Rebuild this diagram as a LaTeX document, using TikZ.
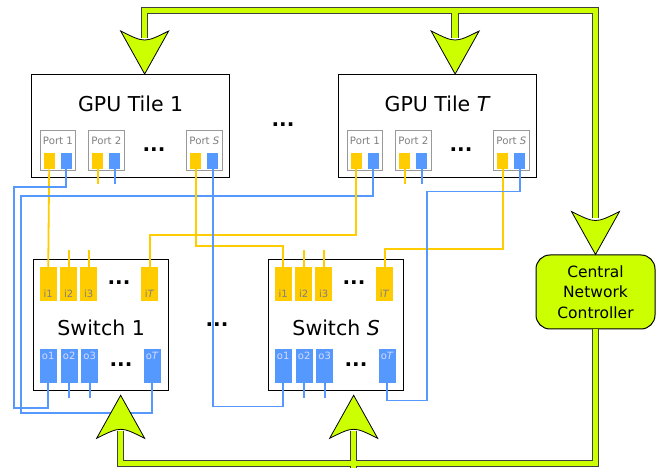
\documentclass[tikz,border=0pt]{standalone}
\usepackage{fontspec}
\setmainfont{DejaVu Sans}
\usetikzlibrary{positioning}
\definecolor{busgreen}{HTML}{CCFF00}
\definecolor{inyellow}{HTML}{FFCC00}
\definecolor{outblue}{HTML}{5599FF}
\tikzset{
  tilebox/.style={draw=black, line width=1.3pt, fill=white, minimum width=198pt, minimum height=103pt, inner sep=0pt},
  swbox/.style={draw=black, line width=1.3pt, fill=white, minimum width=135pt, minimum height=131pt, inner sep=0pt},
  portbox/.style={draw=black!40, line width=1.4pt, minimum width=35.5pt, minimum height=40pt, inner sep=0pt},
  portlbl/.style={text=black!50, font=\fontsize{10.2}{11}\selectfont, inner sep=0pt},
  ysq/.style={fill=inyellow, minimum width=11pt, minimum height=16pt, inner sep=0pt},
  bsq/.style={fill=outblue, minimum width=11pt, minimum height=16pt, inner sep=0pt},
  insq/.style={fill=inyellow, minimum width=17pt, minimum height=34pt, inner sep=0pt},
  outsq/.style={fill=outblue, minimum width=17pt, minimum height=34pt, inner sep=0pt},
  inlbl/.style={anchor=south, yshift=4pt, inner sep=0pt, text=black!50, font=\fontsize{10}{11}\selectfont},
  outlbl/.style={anchor=north, yshift=-3pt, inner sep=0pt, text=white!85!blue, font=\fontsize{10}{11}\selectfont},
  title/.style={inner sep=0pt, font=\fontsize{20.5}{24}\selectfont},
  dots/.style={inner sep=0pt, font=\bfseries\fontsize{20}{20}\selectfont},
  yline/.style={draw=inyellow, line width=1.8pt},
  bline/.style={draw=outblue, line width=1.8pt},
  busout/.style={draw=black!75, line width=7.6pt},
  busin/.style={draw=busgreen, line width=5.6pt},
  head/.style={fill=busgreen, draw=black, line width=0.8pt, line join=miter},
  bighead/.pic={\filldraw[head] (0,0) -- (-24,-43) .. controls (0,-31) .. (24,-43) -- cycle;},
  ctrlbox/.style={draw=black, line width=1pt, fill=busgreen, rounded corners=14pt, minimum width=119pt, minimum height=74pt, align=center, font=\fontsize{15.5}{20.5}\selectfont}
}
\begin{document}
\begin{tikzpicture}[x=1pt, y=-1pt]
\useasboundingbox (0,0) rectangle (657,468);

% GPU tiles with their ports
\foreach \t/\x/\name in {1/31/1, T/338/\textit{T}}{
  \node[tilebox, anchor=north west] (tile\t) at (\x,74) {};
  \node[title] at ([shift={(0,30)}]tile\t.north) {GPU Tile \name};
  \foreach \p/\dx/\pn in {1/8.5/1, 2/57/2, S/155/\textit{S}}{
    \node[portbox, anchor=north west] (t\t p\p) at ([shift={(\dx,56)}]tile\t.north west) {};
    \node[portlbl] at ([shift={(0,11)}]t\t p\p.north) {Port \pn};
    \node[ysq, anchor=north west] (t\t p\p y) at ([shift={(4,23)}]t\t p\p.north west) {};
    \node[bsq, anchor=north west] (t\t p\p b) at ([shift={(21,23)}]t\t p\p.north west) {};
  }
  \node[dots] at ([shift={(123,76)}]tile\t.north west) {...};
}
\node[dots] at (283,125) {...};

% switches
\foreach \s/\x/\name in {1/33/1, S/268/\textit{S}}{
  \node[swbox, anchor=north west] (sw\s) at (\x,259) {};
  \node[title] at ([shift={(0,2.5)}]sw\s.center) {Switch \name};
  \foreach \i/\dx/\lbl in {1/6.5/1, 2/27/2, 3/47/3, T/108/\textit{T}}
    \node[insq, anchor=north west, label={[inlbl]south:i\lbl}] (sw\s i\i) at ([shift={(\dx,8)}]sw\s.north west) {};
  \foreach \o/\dx/\lbl in {1/6.5/1, 2/27.5/2, 3/48/3, T/110.5/\textit{T}}
    \node[outsq, anchor=north west, label={[outlbl]north:o\lbl}] (sw\s o\o) at ([shift={(\dx,90)}]sw\s.north west) {};
  \node[dots] at ([shift={(86,24)}]sw\s.north west) {...};
  \node[dots] at ([shift={(88,106)}]sw\s.north west) {...};
}
\node[dots] at (217,325) {...};

\node[ctrlbox] (ctrl) at (595.5,292) {Central\\Network\\Controller};

% links between tiles and switches
\draw[yline] (t1p1y.south) -- (sw1i1.north);
\draw[bline] (t1p1b.south) |- (14,187) |- (sw1o1.south |- 0,408) -- (sw1o1.south);
\draw[bline] (tTp1b.south) |- (21,196) |- (sw1oT.south |- 0,413) -- (sw1oT.south);
\draw[yline] (tTp1y.south) |- ([yshift=32pt]sw1iT.north) -- (sw1iT.north);
\draw[yline] (t1pSy.south) |- ([yshift=21pt]swSi1.north) -- (swSi1.north);
\draw[bline] (t1pSb.south) |- ([yshift=-23pt]swSo1.south) -- (swSo1.south);
\draw[yline] (tTpSy.south) |- ([yshift=18pt]swSiT.north) -- (swSiT.north);
\draw[bline] (tTpSb.south) |- (427,191.5) |- ([yshift=-17pt]swSoT.south) -- (swSoT.south);

% loose ends
\foreach \n in {t1p2y, tTp2y} \draw[yline] (\n.south) -- ++(0,15);
\foreach \n in {t1p2b, tTp2b} \draw[bline] (\n.south) -- ++(0,15);
\foreach \n in {sw1i2, sw1i3, swSi2, swSi3} \draw[yline] (\n.north) -- ++(0,-17);
\foreach \n in {sw1o2, sw1o3, swSo2, swSo3} \draw[bline] (\n.south) -- ++(0,15);

% control bus
\foreach \s in {busout, busin}{
  \draw[\s, shorten <=36pt, shorten >=36pt] ([shift={(14,0)}]tile1.north) |- (0,10.5 -| ctrl.north) -- (ctrl.north);
  \draw[\s, shorten >=36pt] ([shift={(17.5,0)}]tileT.north |- 0,10.5) -- ([shift={(17.5,0)}]tileT.north);
  \draw[\s, shorten <=36pt] ([shift={(19.5,4)}]sw1.south) |- (0,463.5 -| ctrl.south) -- (ctrl.south);
  \draw[\s, shorten <=36pt] ([shift={(17.5,4)}]swS.south) -- ([shift={(17.5,4)}]swS.south |- 0,463.5);
}
\pic at ([shift={(14,0)}]tile1.north) {bighead};
\pic at ([shift={(17.5,0)}]tileT.north) {bighead};
\pic at (ctrl.north) {bighead};
\pic[rotate=180] at ([shift={(19.5,4)}]sw1.south) {bighead};
\pic[rotate=180] at ([shift={(17.5,4)}]swS.south) {bighead};
\end{tikzpicture}
\end{document}
